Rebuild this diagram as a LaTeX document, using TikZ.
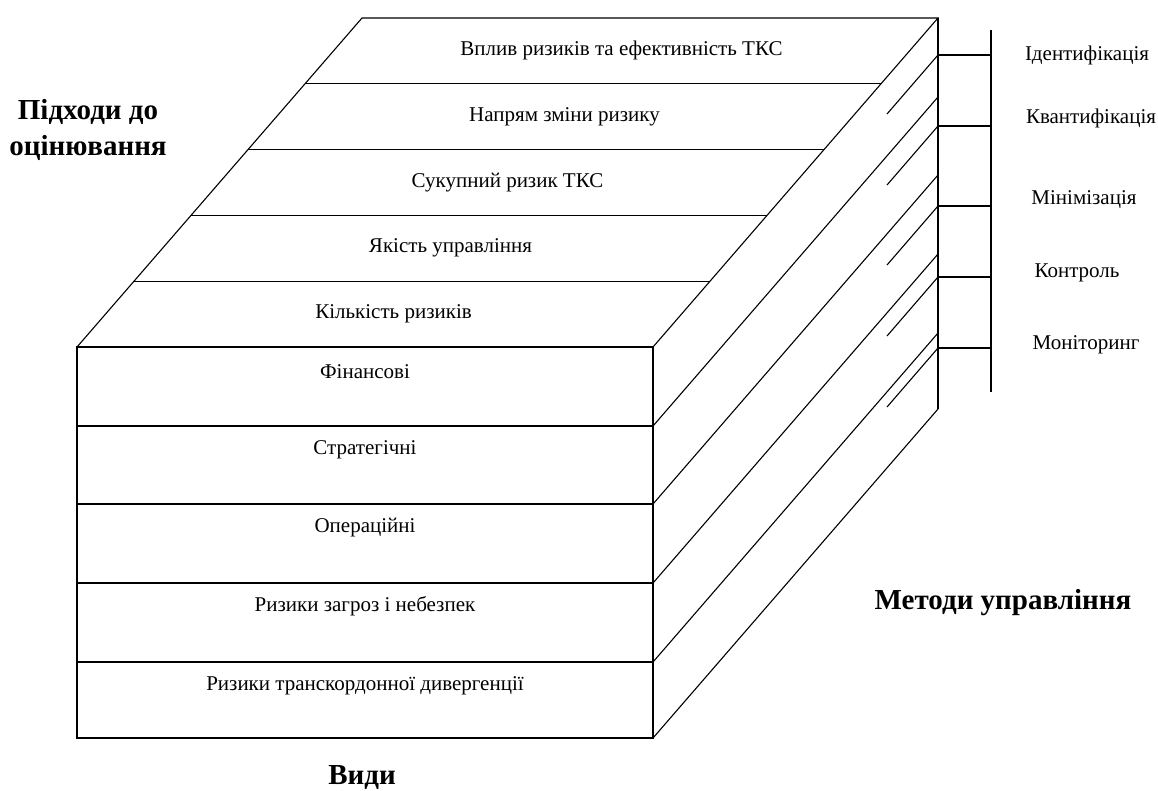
\documentclass[tikz,border=0pt]{standalone}
\usepackage{fontspec}
\setmainfont{Liberation Serif}
\usetikzlibrary{calc}
\begin{document}
\begin{tikzpicture}[x=1pt, y=-1pt,
    edge/.style={line width=1.1pt},
    front/.style={line width=1.9pt},
    lbl/.style={font=\fontsize{21}{25}\selectfont, inner sep=0pt},
    heading/.style={font=\fontsize{29}{36}\selectfont\bfseries, align=center, inner sep=0pt}]
\useasboundingbox (0,0) rectangle (1158,790);
\coordinate (A) at (77,347);
\coordinate (B) at (653,347);
\coordinate (C) at (653,738);

% top face
\draw[edge] (A) -- ++(285,-329) -- ++(576,0) -- (B);
\foreach \k in {1,...,4}
    \draw[edge] ($(A)+(57*\k,-65.8*\k)$) -- ++(576,0);

% right face
\foreach \y in {426,504,583,662,738}
    \draw[edge] (653,\y) -- ++(285,-329);
\draw[edge] (938,18) -- (938,409);

% front face
\draw[front] (A) rectangle (C);
\foreach \y in {426,504,583,662}
    \draw[front] (77,\y) -- (653,\y);

% methods bracket
\foreach \t in {55,126,206,277,348}
{
    \draw[edge] (938,\t) -- (991,\t);
    \draw[edge] (938,\t) -- ++(-51,59);
}
\draw[edge] (991,30) -- (991,392);

% labels
\foreach \txt [count=\k from 0] in {Кількість ризиків, Якість управління, Сукупний ризик ТКС, Напрям зміни ризику, Вплив ризиків та ефективність ТКС}
    \node[lbl] (level\k) at ($(365,347)+({57*(\k+0.5)},{-65.8*(\k+0.5)})$) {\txt};
\foreach \txt/\y [count=\k] in {Фінансові/372, Стратегічні/450, Операційні/528, Ризики загроз і небезпек/606, Ризики транскордонної дивергенції/686}
    \node[lbl] (kind\k) at (365,\y) {\txt};
\foreach \txt/\x/\y [count=\k] in {Ідентифікація/1087/55, Квантифікація/1091/118, Мінімізація/1084/200, Контроль/1077/273, Моніторинг/1086/345}
    \node[lbl] (method\k) at (\x,\y) {\txt};

\node[heading] (approach) at (88,130) {Підходи до\\оцінювання};
\node[heading] (kinds) at (362,778) {Види};
\node[heading] (methods) at (1003,603) {Методи управління};
\end{tikzpicture}
\end{document}
